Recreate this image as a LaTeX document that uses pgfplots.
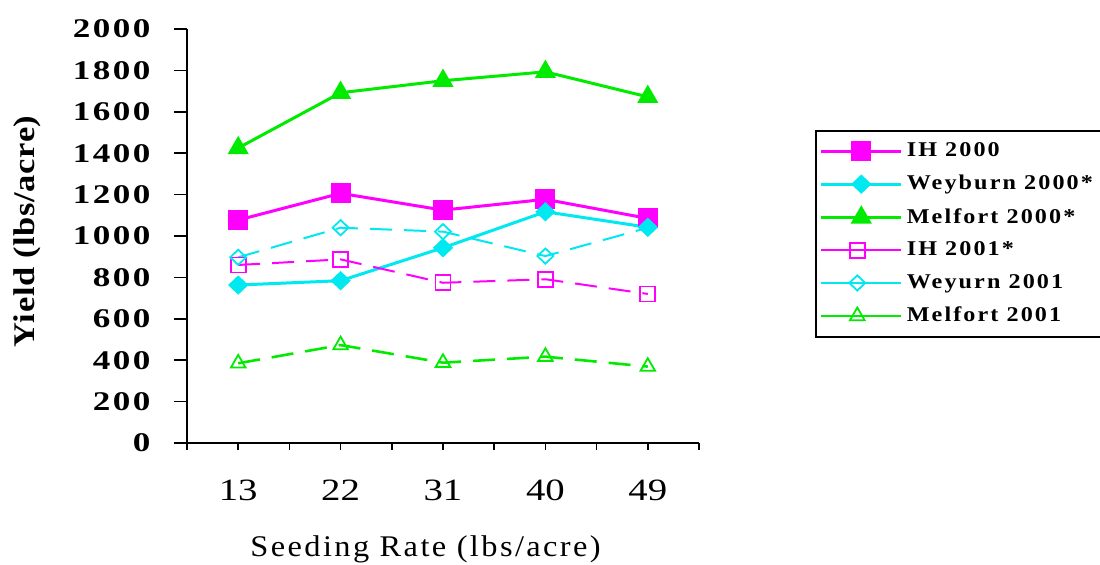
\documentclass[border=0pt]{standalone}
\usepackage{pgfplots}
\pgfplotsset{compat=1.18}
\usepackage{fontspec}
\setmainfont{Liberation Serif}
\newfontfamily\ytickfont[FakeStretch=1.3, LetterSpace=9]{Liberation Serif}
\newfontfamily\xtickfont[FakeStretch=1.25]{Liberation Serif}
\newfontfamily\xlabfont[FakeStretch=1.08, LetterSpace=8]{Liberation Serif}
\newfontfamily\ylabfont[FakeStretch=1.15, LetterSpace=2]{Liberation Serif}
\newfontfamily\legfont[FakeStretch=1.15, LetterSpace=10]{Liberation Serif}
\definecolor{cMag}{RGB}{255,0,255}
\definecolor{cCyan}{RGB}{0,232,240}
\definecolor{cGreen}{RGB}{0,235,0}
\pgfplotsset{
  solidleg/.style={legend image code/.code={\draw[mark repeat=2,mark phase=2,##1] plot coordinates {(0pt,0pt) (20pt,0pt) (40pt,0pt)};}},
  dashleg/.style={legend image code/.code={\draw[mark repeat=2,mark phase=2,##1,solid] plot coordinates {(2.5pt,0pt) (18pt,0pt) (34pt,0pt)}; \path (0pt,0pt) -- (40pt,0pt);}},
}
\begin{document}
\begin{tikzpicture}
\useasboundingbox (0,0) rectangle (550pt,282.5pt);
\begin{axis}[
  at={(93.5pt,61pt)}, anchor=south west,
  scale only axis, width=256pt, height=207pt,
  xmin=-0.5, xmax=4.5, ymin=0, ymax=2000,
  axis x line*=bottom, axis y line*=left,
  axis line style={line width=0.75pt, -},
  xtick={0,...,4}, xticklabels={13,22,31,40,49},
  minor xtick={-0.5,0.5,1.5,2.5,3.5,4.5},
  ytick={0,200,...,2000},
  tick align=outside,
  major tick length=6.5pt, minor tick length=3.5pt,
  xtick style={/pgfplots/major tick length=3.5pt},
  tick style={line width=0.75pt, black},
  /pgf/number format/assume math mode=true,
  /pgf/number format/1000 sep={},
  yticklabel style={font=\ytickfont\bfseries\fontsize{13.5}{15}\selectfont, xshift=-8.3pt},
  xticklabel style={font=\xtickfont\fontsize{15.5}{17}\selectfont, yshift=-8.3pt},
  xlabel={Seeding Rate (lbs/acre)},
  xlabel style={font=\xlabfont\fontsize{15}{17}\selectfont, at={(axis description cs:0.466,-0.258)}, anchor=center},
  ylabel={Yield (lbs/acre)},
  ylabel style={font=\ylabfont\bfseries\fontsize{15}{17}\selectfont, at={(axis description cs:-0.3125,0.511)}, anchor=center},
  legend style={at={(axis description cs:1.2266,0.756)}, anchor=north west,
    draw=black, line width=0.8pt, font=\legfont\bfseries\fontsize{10.5}{12}\selectfont,
    inner xsep=2pt, inner ysep=4pt, row sep=3.8pt,
    nodes={inner sep=2pt, anchor=west}},
  legend cell align=left,
  solidleg,
]
\addplot[color=cMag, line width=1.5pt, mark=square*, mark size=4.25pt, mark options={fill=cMag}]
  coordinates {(0,1077) (1,1206) (2,1125) (3,1177) (4,1085)};
\addlegendentry{IH 2000}
\addplot[color=cCyan, line width=1.5pt, mark=diamond*, mark size=3.8pt, mark options={fill=cCyan, xscale=1.4}]
  coordinates {(0,763) (1,784) (2,943) (3,1117) (4,1042)};
\addlegendentry{Weyburn 2000*}
\addplot[color=cGreen, line width=1.5pt, mark=triangle*, mark size=4.6pt, mark options={fill=cGreen}]
  coordinates {(0,1425) (1,1692) (2,1750) (3,1793) (4,1672)};
\addlegendentry{Melfort 2000*}
\addplot[color=cMag, line width=1pt, dash pattern=on 11pt off 6pt, mark=square, mark size=3.75pt, mark options={solid, line width=0.9pt}, dashleg]
  coordinates {(0,860) (1,887) (2,774) (3,791) (4,720)};
\addlegendentry{IH 2001*}
\addplot[color=cCyan, line width=1pt, dash pattern=on 11pt off 6pt, mark=diamond, mark size=3.8pt, mark options={solid, line width=0.9pt, xscale=1.4}, dashleg]
  coordinates {(0,897) (1,1040) (2,1021) (3,903) (4,1040)};
\addlegendentry{Weyurn 2001}
\addplot[color=cGreen, line width=1.3pt, dash pattern=on 11pt off 6pt, mark=triangle, mark size=4.2pt, mark options={solid, line width=0.9pt}, dashleg]
  coordinates {(0,385) (1,473) (2,388) (3,417) (4,369)};
\addlegendentry{Melfort 2001}
\end{axis}
\end{tikzpicture}
\end{document}
